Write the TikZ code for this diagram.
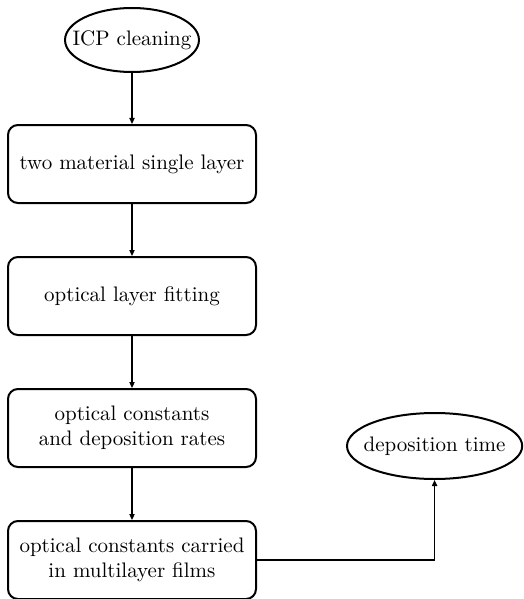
\documentclass[tikz,border=0pt]{standalone}
\usetikzlibrary{arrows.meta, positioning, shapes.geometric}

\begin{document}
\begin{tikzpicture}[
  x=0.5pt, y=-0.5pt,
  font=\fontsize{10.5}{12.5}\selectfont,
  term/.style={draw, ellipse, line width=1pt, inner xsep=-6pt, inner ysep=0pt},
  proc/.style={draw, rounded corners=5pt, line width=1pt, align=center,
               minimum width=124pt, minimum height=39pt, inner sep=2pt},
  arr/.style={-{Triangle[length=3pt, width=2.6pt]}, line width=0.8pt},
  node distance=26pt and 44.5pt]

  \useasboundingbox (0,0) rectangle (524,599);

  % main chain
  \node[term, minimum height=32pt] (icp) at (132,40) {ICP cleaning};
  \node[proc, below=25.5pt of icp] (single) {two material single layer};
  \node[proc, below=of single] (fit) {optical layer fitting};
  \node[proc, below=of fit] (rates) {optical constants\\ and deposition rates};
  \node[proc, below=of rates] (multi) {optical constants carried\\ in multilayer films};

  % side branch
  \node[term, inner xsep=-4.5pt, minimum height=33pt, right=of rates.east,
        yshift=-9pt] (time) {deposition time};

  \draw[arr] (icp) -- (single);
  \draw[arr] (single) -- (fit);
  \draw[arr] (fit) -- (rates);
  \draw[arr] (rates) -- (multi);
  \draw[arr] (multi.east) -| (time.south);
\end{tikzpicture}
\end{document}
